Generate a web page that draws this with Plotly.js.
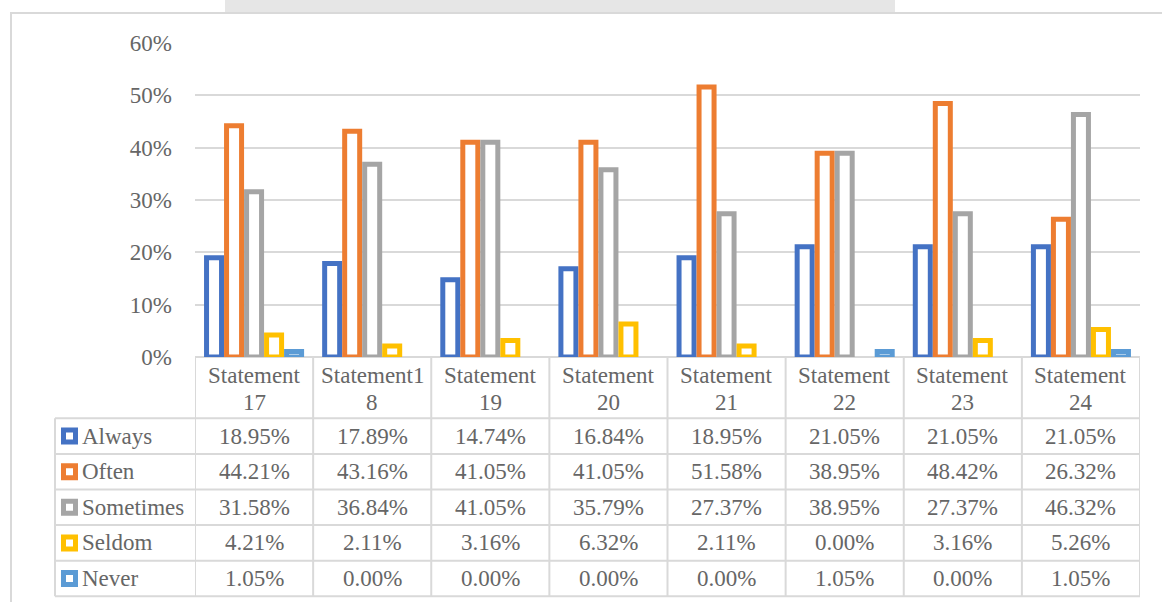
<!DOCTYPE html>
<html>
<head>
<meta charset="utf-8">
<script src="https://cdn.plot.ly/plotly-3.0.1.min.js"></script>
<style>html,body{margin:0;padding:0;background:#fff;}#chart{width:1162px;height:602px;}</style>
</head>
<body>
<div id="chart"></div>
<script>
// ---- data ----
const categories = ['Statement 17','Statement 18','Statement 19','Statement 20','Statement 21','Statement 22','Statement 23','Statement 24'];
const headerLines = [['Statement','17'],['Statement1','8'],['Statement','19'],['Statement','20'],['Statement','21'],['Statement','22'],['Statement','23'],['Statement','24']];
const seriesNames = ['Always','Often','Sometimes','Seldom','Never'];
const always    = [18.95, 17.89, 14.74, 16.84, 18.95, 21.05, 21.05, 21.05];
const often     = [44.21, 43.16, 41.05, 41.05, 51.58, 38.95, 48.42, 26.32];
const sometimes = [31.58, 36.84, 41.05, 35.79, 27.37, 38.95, 27.37, 46.32];
const seldom    = [4.21, 2.11, 3.16, 6.32, 2.11, 0.00, 3.16, 5.26];
const never     = [1.05, 0.00, 0.00, 0.00, 0.00, 1.05, 0.00, 1.05];
const yTicks = [0, 10, 20, 30, 40, 50, 60];

// ---- styles ----
const seriesValues = [always, often, sometimes, seldom, never];
const colors = ['#4472C4', '#ED7D31', '#A5A5A5', '#FFC000', '#5B9BD5'];
const textColor = '#666666';
const gridColor = '#d9d9d9';
const FONT = 'Liberation Serif';
const FS = 23;

// pixel -> paper helpers (plot area: x 195..1140, y 43..357)
const PX = p => (p - 195) / 945;
const PY = p => (357 - p) / 314;

const traces = seriesNames.map((name, i) => ({
  type: 'bar',
  name: name,
  x: categories,
  y: seriesValues[i].map(v => (v === 0 ? null : v)),
  marker: {color: '#ffffff', line: {color: colors[i], width: 5}},
  cliponaxis: false,
  hoverinfo: 'x+y+name'
}));

const shapes = [];
const annotations = [];

// outer frame (left and top)
shapes.push({type: 'line', xref: 'paper', yref: 'paper', x0: PX(11), x1: PX(11), y0: PY(13), y1: PY(610), line: {color: gridColor, width: 2}});
shapes.push({type: 'line', xref: 'paper', yref: 'paper', x0: PX(10), x1: PX(1170), y0: PY(13), y1: PY(13), line: {color: gridColor, width: 2}});
// faint band above frame
shapes.push({type: 'rect', xref: 'paper', yref: 'paper', x0: PX(225), x1: PX(895), y0: PY(0), y1: PY(12), fillcolor: '#e6e6e6', line: {width: 0}, layer: 'below'});

// table geometry
const rowLines = [418.3, 453.9, 489.5, 525.1, 560.7, 596.3];
const tableStyle = {color: gridColor, width: 2};
rowLines.forEach(p => {
  shapes.push({type: 'line', xref: 'paper', yref: 'paper', x0: PX(55), x1: 1, y0: PY(p), y1: PY(p), line: tableStyle});
});
shapes.push({type: 'line', xref: 'paper', yref: 'paper', x0: PX(55), x1: PX(55), y0: PY(418.3), y1: PY(596.3), line: tableStyle});
for (let i = -1; i < categories.length; i++) {
  shapes.push({type: 'line', xref: 'x', yref: 'paper', x0: i + 0.5, x1: i + 0.5, y0: PY(357), y1: PY(596.3), line: tableStyle});
}

// header labels
categories.forEach((c, i) => {
  headerLines[i].forEach((t, k) => {
    annotations.push({xref: 'x', yref: 'paper', x: c, y: PY(375 + k * 27), text: t, showarrow: false,
      xanchor: 'center', yanchor: 'middle', font: {family: FONT, size: FS, color: textColor}});
  });
});

// rows
seriesNames.forEach((name, r) => {
  const top = rowLines[r], bot = rowLines[r + 1];
  const cy = (top + bot) / 2;
  shapes.push({type: 'rect', xref: 'paper', yref: 'paper', x0: PX(63.5), x1: PX(75.5), y0: PY(cy - 6), y1: PY(cy + 6),
    fillcolor: '#ffffff', line: {color: colors[r], width: 5}});
  annotations.push({xref: 'paper', yref: 'paper', x: PX(80), y: PY(cy), text: name, showarrow: false,
    xanchor: 'left', yanchor: 'middle', font: {family: FONT, size: FS, color: textColor}});
  seriesValues[r].forEach((v, i) => {
    annotations.push({xref: 'x', yref: 'paper', x: categories[i], y: PY(cy), text: v.toFixed(2) + '%', showarrow: false,
      xanchor: 'center', yanchor: 'middle', font: {family: FONT, size: FS, color: textColor}});
  });
});

const layout = {
  width: 1162, height: 602,
  margin: {l: 195, r: 22, t: 43, b: 245, pad: 0},
  paper_bgcolor: '#ffffff', plot_bgcolor: '#ffffff',
  font: {family: FONT, size: FS, color: textColor},
  showlegend: false,
  barmode: 'group',
  bargap: 0.153,
  bargroupgap: 0.25,
  xaxis: {type: 'category', range: [-0.5, 7.5], showticklabels: false, showgrid: false, zeroline: false, showline: false, ticks: ''},
  yaxis: {range: [0, 60], tickvals: yTicks, ticktext: yTicks.map(v => v + '%'), showgrid: true, gridcolor: gridColor, gridwidth: 1.5,
    zeroline: true, zerolinecolor: gridColor, zerolinewidth: 2, showline: false, ticks: '', ticklabelstandoff: 22,
    tickfont: {family: FONT, size: FS, color: textColor}},
  shapes: shapes,
  annotations: annotations,
  hovermode: 'closest'
};

Plotly.newPlot('chart', traces, layout, {displayModeBar: false});
</script>
</body>
</html>
